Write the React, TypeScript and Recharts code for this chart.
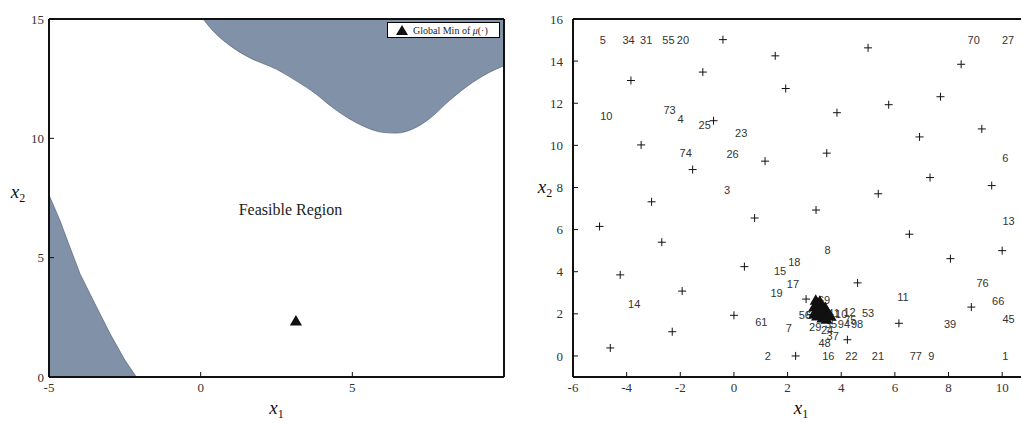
import React from "react";
import {
  ComposedChart,
  ScatterChart,
  Area,
  Scatter,
  XAxis,
  YAxis,
  Legend,
} from "recharts";

// ---- left panel: infeasible regions (boundaries) ----
const lowerX = [-5, -4.64, -4.31, -3.98, -3.49, -2.99, -2.5, -2.12];
const lowerY = [7.63, 6.56, 5.44, 4.33, 3.08, 1.82, 0.71, 0];
const upperX = [0.08, 0.41, 1.06, 1.61, 2.49, 3.15, 3.81, 4.35, 5.01, 5.45, 6.0, 6.44, 6.99, 7.53, 8.19, 8.96, 9.51, 10];
const upperY = [15, 14.5, 13.8, 13.38, 12.9, 12.41, 11.85, 11.29, 10.74, 10.46, 10.25, 10.22, 10.39, 10.81, 11.57, 12.34, 12.76, 13.04];
const leftXTicks = [-5, 0, 5];
const leftYTicks = [0, 5, 10, 15];
const globalMin = [{ x: 3.14, y: 2.3 }];
const regionNote = [{ x: 2.96, y: 7.02, text: "Feasible Region" }];

// ---- right panel: design points, min-search triangles, sample numbers ----
const plusX = [-0.41, 1.54, -1.16, -3.84, 5.0, 1.93, 8.47, 7.7, 5.77, 3.84, -0.76, 9.24, 6.92, -3.46, 3.46, 1.16, -1.54, 7.31, 9.61, 5.38, -3.07, 3.06, 0.77, -5.01, 6.54, -2.69, 10.0, 8.07, 0.39, -4.24, 4.61, -1.93, 2.69, 8.85, 0.0, 6.15, -2.3, 4.23, -4.61, 2.3];
const plusY = [15.02, 14.25, 13.48, 13.08, 14.63, 12.7, 13.85, 12.31, 11.93, 11.55, 11.17, 10.78, 10.4, 10.02, 9.63, 9.25, 8.85, 8.47, 8.09, 7.7, 7.32, 6.93, 6.55, 6.15, 5.78, 5.4, 5.0, 4.62, 4.24, 3.85, 3.47, 3.08, 2.7, 2.32, 1.93, 1.55, 1.15, 0.77, 0.38, 0.0];
const triX = [3.0, 3.05, 3.1, 3.15, 3.2, 3.1, 3.25, 3.3, 3.35, 3.4, 3.0, 3.2, 3.5, 3.6, 3.45, 3.15, 3.3, 3.05];
const triY = [2.3, 2.1, 2.45, 2.2, 1.95, 1.85, 2.35, 2.1, 1.9, 2.25, 1.95, 2.55, 2.0, 1.85, 1.7, 2.05, 1.75, 2.6];
const numText = ["5", "34", "31", "55", "20", "70", "27", "10", "73", "4", "25", "23", "74", "26", "6", "3", "13", "8", "18", "15", "17", "76", "19", "11", "14", "66", "69", "56", "57", "41", "10", "12", "53", "45", "61", "75", "39", "35", "94", "98", "7", "29", "24", "37", "48", "2", "16", "22", "21", "77", "9", "1"];
const numX = [-4.89, -3.93, -3.27, -2.44, -1.9, 8.94, 10.22, -4.76, -2.4, -1.99, -1.09, 0.27, -1.8, -0.05, 10.12, -0.26, 10.24, 3.49, 2.25, 1.72, 2.2, 9.27, 1.59, 6.3, -3.72, 9.85, 3.36, 2.64, 2.92, 3.72, 4.0, 4.31, 5.0, 10.24, 1.02, 4.34, 8.06, 3.62, 4.1, 4.59, 2.05, 3.03, 3.47, 3.68, 3.38, 1.26, 3.52, 4.38, 5.37, 6.78, 7.36, 10.12];
const numY = [15, 15, 15, 15, 15, 15, 15, 11.38, 11.66, 11.27, 10.97, 10.6, 9.66, 9.61, 9.4, 7.87, 6.41, 5.03, 4.45, 4.04, 3.41, 3.46, 2.98, 2.79, 2.48, 2.59, 2.67, 1.96, 1.96, 2.02, 2.0, 2.07, 2.04, 1.77, 1.61, 1.69, 1.53, 1.53, 1.53, 1.53, 1.33, 1.37, 1.25, 0.93, 0.62, 0, 0, 0, 0, 0, 0, 0];
const rightXTicks = [-6, -4, -2, 0, 2, 4, 6, 8, 10];
const rightYTicks = [0, 2, 4, 6, 8, 10, 12, 14, 16];

const REGION = "#8091a8";
const SERIF = "'Liberation Serif'";
const SANS = "'Liberation Sans'";
const tickStyle = { fontFamily: SERIF, fontSize: 13, fill: "#333" };
const axisLine = { stroke: "#111", strokeWidth: 2 };
const tickLine = { stroke: "#111", strokeWidth: 1 };

const regionRows = [
  ...lowerX.map((x, i) => ({ x, lower: lowerY[i] })),
  ...upperX.map((x, i) => ({ x, upper: upperY[i] })),
];
const plusPts = plusX.map((x, i) => ({ x, y: plusY[i] }));
const triPts = triX.map((x, i) => ({ x, y: triY[i] }));
const numPts = numText.map((t, i) => ({ x: numX[i], y: numY[i], text: t }));

function AxisName({ viewBox, sub, kind, dx = 0, dy = 0 }: any) {
  const { x, y, width, height } = viewBox;
  const px = kind === "x" ? x + width / 2 : x + dx;
  const py = kind === "x" ? y + dy : y + height / 2 + dy;
  return (
    <text x={px} y={py} textAnchor="middle" fontFamily={SERIF} fontSize={19} fill="#111">
      <tspan fontStyle="italic">x</tspan>
      <tspan fontSize={12} dy={4}>{sub}</tspan>
    </text>
  );
}

const Plus = (p: any) => (
  <path d={`M${p.cx - 4},${p.cy}H${p.cx + 4}M${p.cx},${p.cy - 4}V${p.cy + 4}`} stroke="#111" strokeWidth={1} fill="none" />
);

const NumLabel = (p: any) => (
  <text x={p.cx} y={p.cy} textAnchor="middle" dominantBaseline="central" fontFamily={SANS} fontSize={11} fill="#333">
    {p.payload.text}
  </text>
);

const NoteLabel = (p: any) => (
  <text x={p.cx} y={p.cy} textAnchor="middle" dominantBaseline="central" fontFamily={SERIF} fontSize={16} fill="#222">
    {p.payload.text}
  </text>
);

const LegendBox = () => (
  <div
    style={{
      boxSizing: "border-box",
      width: 113,
      height: 16,
      border: "1.5px solid #000",
      background: "#fff",
      display: "flex",
      alignItems: "center",
      gap: 5,
      paddingLeft: 8,
      fontFamily: SERIF,
      fontSize: 10,
      color: "#222",
      whiteSpace: "nowrap",
    }}
  >
    <svg width={12} height={10}>
      <polygon points="6,0 12,10 0,10" fill="#111" />
    </svg>
    <span>
      Global Min of <i>μ</i>(·)
    </span>
  </div>
);

export default function App() {
  return (
    <div style={{ position: "absolute", left: 0, top: 0, width: 1021, height: 423, overflow: "hidden", background: "#fff" }}>
      <div style={{ position: "absolute", left: 0, top: 0, width: 520, height: 423 }}>
        <ComposedChart width={520} height={423} data={regionRows} margin={{ top: 18, right: 15, bottom: 0, left: 0 }}>
          <Area
            type="linear"
            dataKey={(d: any) => (d.lower == null ? null : [0, d.lower])}
            fill={REGION}
            fillOpacity={1}
            stroke="#56637a"
            strokeWidth={0.7}
            dot={false}
            activeDot={false}
            isAnimationActive={false}
          />
          <Area
            type="monotone"
            dataKey={(d: any) => (d.upper == null ? null : [d.upper, 15])}
            fill={REGION}
            fillOpacity={1}
            stroke="#56637a"
            strokeWidth={0.7}
            dot={false}
            activeDot={false}
            isAnimationActive={false}
          />
          <XAxis
            type="number"
            dataKey="x"
            domain={[-5, 10]}
            ticks={leftXTicks}
            allowDataOverflow
            height={46}
            axisLine={axisLine}
            tickLine={tickLine}
            tickSize={-5}
            tickMargin={11}
            tick={tickStyle}
            label={<AxisName kind="x" sub="1" dy={37} />}
          />
          <XAxis xAxisId="top" orientation="top" type="number" domain={[-5, 10]} ticks={leftXTicks} allowDataOverflow height={1} axisLine={axisLine} tickLine={tickLine} tickSize={-5} tick={false} />
          <YAxis
            type="number"
            dataKey="y"
            domain={[0, 15]}
            ticks={leftYTicks}
            allowDataOverflow
            width={49}
            axisLine={axisLine}
            tickLine={tickLine}
            tickSize={-5}
            tickMargin={10}
            tick={tickStyle}
            label={<AxisName kind="y" sub="2" dx={18} dy={0} />}
          />
          <YAxis yAxisId="right" orientation="right" type="number" domain={[0, 15]} ticks={leftYTicks} allowDataOverflow width={1} axisLine={axisLine} tickLine={tickLine} tickSize={-5} tick={false} />
          <Scatter data={regionNote} dataKey="y" shape={NoteLabel} isAnimationActive={false} />
          <Scatter data={globalMin} dataKey="y" shape="triangle" fill="#111" isAnimationActive={false} />
          <Legend
            layout="vertical"
            align="center"
            verticalAlign="middle"
            content={LegendBox}
            wrapperStyle={{ left: 387, top: 22, width: 113, height: 16 }}
          />
        </ComposedChart>
      </div>

      <div style={{ position: "absolute", left: 520, top: 0, width: 501, height: 423, overflow: "hidden" }}>
        <ScatterChart width={509} height={423} margin={{ top: 18, right: 0, bottom: 0, left: 0 }}>
          <XAxis
            type="number"
            dataKey="x"
            domain={[-6, 11]}
            ticks={rightXTicks}
            allowDataOverflow
            height={46}
            axisLine={axisLine}
            tickLine={tickLine}
            tickSize={-5}
            tickMargin={11}
            tick={tickStyle}
            label={<AxisName kind="x" sub="1" dy={37} />}
          />
          <XAxis xAxisId="top" orientation="top" type="number" domain={[-6, 11]} ticks={rightXTicks} allowDataOverflow height={1} axisLine={axisLine} tickLine={tickLine} tickSize={-5} tick={false} />
          <YAxis
            type="number"
            dataKey="y"
            domain={[-1, 16]}
            ticks={rightYTicks}
            allowDataOverflow
            width={53}
            axisLine={axisLine}
            tickLine={tickLine}
            tickSize={-5}
            tickMargin={15}
            tick={tickStyle}
            label={<AxisName kind="y" sub="2" dx={25} dy={-5} />}
          />
          <Scatter data={plusPts} shape={Plus} isAnimationActive={false} />
          <Scatter data={numPts} shape={NumLabel} isAnimationActive={false} />
          <Scatter data={triPts} shape="triangle" size={20} fill="#111" isAnimationActive={false} />
        </ScatterChart>
      </div>
    </div>
  );
}
